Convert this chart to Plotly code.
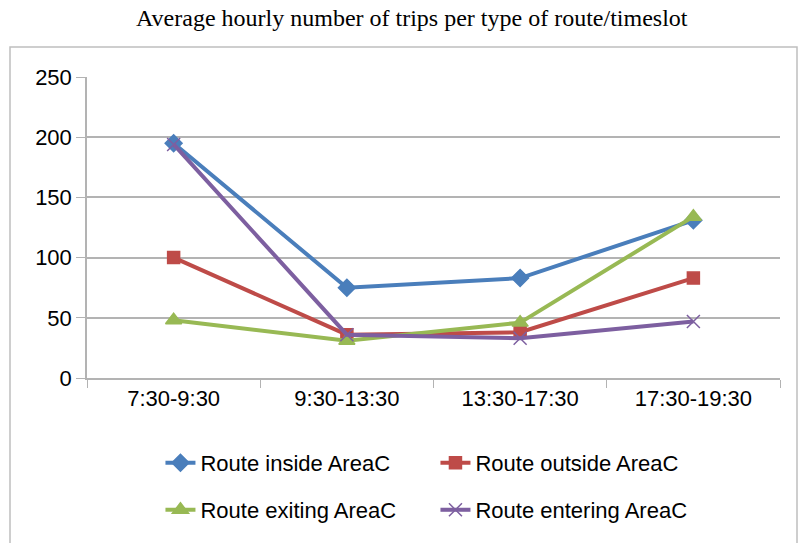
import plotly.graph_objects as go

categories = ["7:30-9:30", "9:30-13:30", "13:30-17:30", "17:30-19:30"]
inside = [195, 75, 83, 131]
outside = [100, 36, 38, 83]
exiting = [48, 31, 46, 134]
entering = [194, 36, 33, 47]
y_ticks = [0, 50, 100, 150, 200, 250]

series = [
    ("Route inside AreaC", inside, "#4a7ebb", "diamond", 13, "legend"),
    ("Route outside AreaC", outside, "#be4b48", "square", 12, "legend"),
    ("Route exiting AreaC", exiting, "#98b954", "triangle-up", 14, "legend2"),
    ("Route entering AreaC", entering, "#7d5fa0", "x-thin-open", 13, "legend2"),
]

fig = go.Figure()
for name, vals, color, sym, size, lg in series:
    fig.add_trace(go.Scatter(
        x=categories, y=vals, name=name, mode="lines+markers",
        line=dict(color=color, width=4),
        marker=dict(symbol=sym, size=size, color=color,
                    line=dict(color=color, width=1.5)),
        legend=lg,
    ))

font_sans = "Liberation Sans, Arial, sans-serif"
leg_common = dict(orientation="h", xanchor="left", yanchor="middle",
                  font=dict(family=font_sans, size=22, color="#000000"),
                  entrywidth=230, bgcolor="rgba(0,0,0,0)", itemwidth=30)

fig.update_layout(
    width=798, height=543,
    margin=dict(l=87, r=18, t=77, b=165),
    paper_bgcolor="white", plot_bgcolor="white",
    title=dict(text="Average hourly number of trips per type of route/timeslot",
               x=0.516, xanchor="center", y=0.967, yanchor="middle",
               font=dict(family="Liberation Serif, Times New Roman, serif", size=24, color="#000000")),
    xaxis=dict(type="category", range=[-0.5, 3.5], showgrid=False,
               showline=True, linecolor="#b3b3b3", linewidth=1.5,
               ticks="outside", tickson="boundaries", ticklen=8, tickcolor="#b3b3b3",
               tickfont=dict(family=font_sans, size=22, color="#000000")),
    yaxis=dict(range=[0, 250], tickvals=y_ticks, showgrid=True, gridcolor="#b3b3b3", gridwidth=1.5,
               showline=True, linecolor="#b3b3b3", linewidth=1.5, zeroline=False,
               ticks="outside", ticklen=9, tickcolor="#b3b3b3",
               tickfont=dict(family=font_sans, size=22, color="#000000")),
    legend=dict(x=0.106, y=-0.282, **leg_common),
    legend2=dict(x=0.106, y=-0.4385, **leg_common),
    showlegend=True,
)

fig.add_shape(type="rect", xref="paper", yref="paper",
              x0=-77/693, x1=(797-87)/693, y0=-(560-378)/301, y1=(378-47)/301,
              line=dict(color="#bfbfbf", width=1.5), fillcolor="rgba(0,0,0,0)", layer="below")

fig.write_html("out.html", config={"displayModeBar": False},
               post_script="document.body.style.margin='0';document.body.style.overflow='hidden';")
